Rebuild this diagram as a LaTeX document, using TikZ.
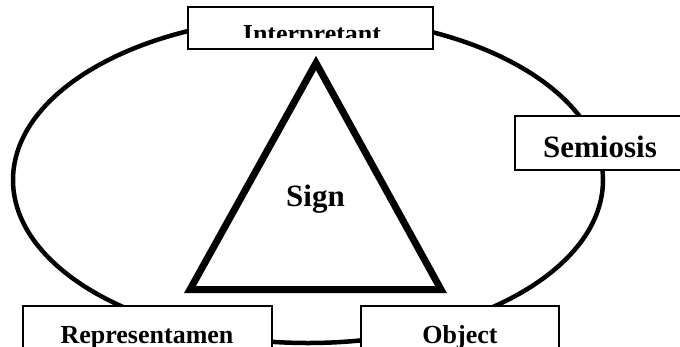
\documentclass[tikz,border=0pt]{standalone}
\usepackage{fontspec}
\setmainfont{Liberation Serif}
\usetikzlibrary{positioning}

\tikzset{
  termbox/.style={draw, line width=1.6pt, fill=white, inner sep=0pt},
  termtext/.style={font=\fontsize{26}{30}\selectfont\bfseries, inner sep=0pt, anchor=base},
  signtext/.style={font=\fontsize{31}{36}\selectfont\bfseries, inner sep=0pt, anchor=base}
}

\begin{document}
\begin{tikzpicture}[x=1pt,y=-1pt]
\useasboundingbox (0,0) rectangle (680,346);
\clip (0,0) rectangle (680,346);

\draw[line width=4.5pt] (308,180) ellipse [x radius=295, y radius=163];

\draw[line width=7pt, miter limit=10]
(316,63) -- (190,289.5) -- (441,289.5) -- cycle;
\node[signtext] (sign) at (315.5,206) {Sign};

\node[termbox, minimum width=245pt, minimum height=42pt] (interp) at (310.5,28) {};
\node[termbox, minimum width=170pt, minimum height=54pt] (semiosis) at (600,143) {};
\node[termbox, minimum width=249pt, minimum height=54pt] (repr) at (147.5,333) {};
\node[termbox, minimum width=198pt, minimum height=54pt] (object) at (460,333) {};

\begin{scope}
\clip (188,0) rectangle (433,37);
\node[termtext] (interplabel) at (312,42) {Interpretant};
\end{scope}
\node[signtext] (semiosislabel) at (600,157) {Semiosis};
\node[termtext] (reprlabel) at (147,343) {Representamen};
\node[termtext] (objectlabel) at (460,343) {Object};
\end{tikzpicture}
\end{document}
